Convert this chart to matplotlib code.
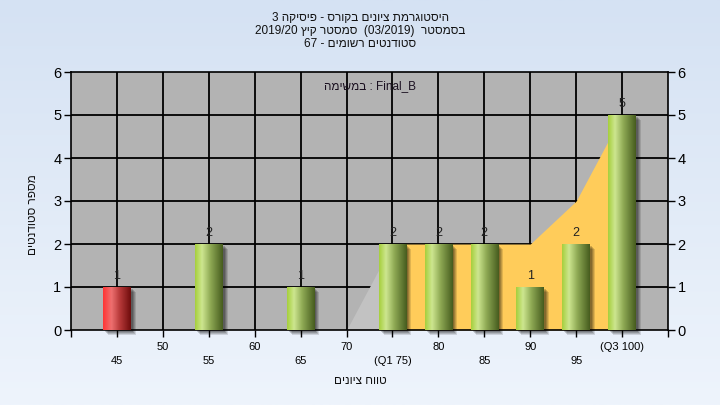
import numpy as np
import matplotlib
matplotlib.use('Agg')
import matplotlib.pyplot as plt
from matplotlib.colors import LinearSegmentedColormap
from matplotlib.patches import Rectangle
import matplotlib.transforms as mtransforms

plt.rcParams['font.family'] = ['Liberation Sans', 'DejaVu Sans']

# ---------------- data ----------------
categories = [45, 55, 65, 75, 80, 85, 90, 95, 100]
counts = [1, 2, 1, 2, 2, 2, 1, 2, 5]
fail_below = 55

area_x = [70, 75, 80, 85, 90, 95, 100]
area_y = [0, 2, 2, 2, 2, 3, 5]
q1 = 75

major_ticks = [50, 60, 70, 80, 90, 100]
major_labels = ["50", "60", "70", "80", "90", "(Q3 100)"]
minor_ticks = [45, 55, 65, 75, 85, 95]
minor_labels = ["45", "55", "65", "(Q1 75)", "85", "95"]

title_lines = ["היסטוגרמת ציונים בקורס - פיסיקה 3",
               "בסמסטר  (03/2019)  סמסטר קיץ 2019/20",
               "סטודנטים רשומים - 67"]
task_label = "Final_B : במשימה"
x_label = "טווח ציונים"
y_label = "מספר סטודנטים"


def rtl(s):
    toks = s.split(' ')[::-1]
    return ' '.join(t[::-1] if any('\u0590' <= c <= '\u05ff' for c in t) else t for t in toks)


# ---------------- figure ----------------
fig = plt.figure(figsize=(7.2, 4.05), dpi=100)

# background gradient
bg = fig.add_axes([0, 0, 1, 1], zorder=-10)
grad = np.linspace(0, 1, 256).reshape(-1, 1)
bg_cmap = LinearSegmentedColormap.from_list('bg', ['#d5e2f3', '#eef4fc'])
bg.imshow(grad, aspect='auto', cmap=bg_cmap, extent=[0, 1, 0, 1], origin='upper')
bg.set_axis_off()

ax = fig.add_axes([71 / 720, 75 / 405, 597 / 720, 258 / 405])
ax.set_facecolor('#b3b3b3')
ax.set_xlim(40, 105)
ax.set_ylim(0, 6)

# grid
for xv in minor_ticks + major_ticks:
    ax.axvline(xv, color='black', lw=1.3, zorder=0.5)
for yv in range(1, 6):
    ax.axhline(yv, color='black', lw=1.3, zorder=0.5)

# area (grey before Q1, yellow from Q1)
ax_ = np.array(area_x, dtype=float)
ay_ = np.array(area_y, dtype=float)
ax.fill_between(ax_, 0, ay_, where=ax_ <= q1, color='#c2c2c2', lw=0, zorder=1)
ax.fill_between(ax_, 0, ay_, where=ax_ >= q1, color='#ffcc5a', lw=0, zorder=1)

# bars
green_cmap = LinearSegmentedColormap.from_list(
    'g', [(0, '#a6cf3c'), (0.25, '#cde690'), (0.55, '#8faa55'), (1, '#465c1e')])
red_cmap = LinearSegmentedColormap.from_list(
    'r', [(0, '#ff3535'), (0.3, '#ee7070'), (0.6, '#b83a3a'), (1, '#6e0c0c')])

bars = ax.bar(categories, counts, width=3.0, color='none', zorder=3)
hgrad = np.linspace(0, 1, 128).reshape(1, -1)
for cat, cnt, b in zip(categories, counts, bars):
    x0, w, h = b.get_x(), b.get_width(), b.get_height()
    # shadow
    for k, a in enumerate([0.18, 0.16, 0.14, 0.12]):
        off = mtransforms.offset_copy(ax.transData, fig=fig, x=2 + k, y=-(2 + k), units='dots')
        ax.add_patch(Rectangle((x0, 0), w, h, transform=off, facecolor='black',
                               alpha=a, lw=0, zorder=2, clip_on=False))
    cmap = red_cmap if cat < fail_below else green_cmap
    ax.imshow(hgrad, cmap=cmap, extent=[x0, x0 + w, 0, h], aspect='auto', zorder=3)
    ax.text(cat, h + 0.12, str(cnt), ha='center', va='bottom', fontsize=9,
            color='#222222', zorder=4)

ax.set_xlim(40, 105)
ax.set_ylim(0, 6)

# ticks
ax.set_xticks([40] + major_ticks + [105])
ax.set_xticklabels([''] + major_labels + [''])
ax.set_xticks(minor_ticks, minor=True)
ax.set_xticklabels(minor_labels, minor=True)
ax.tick_params(axis='x', which='major', direction='out', length=5, width=1, pad=4, labelsize=8)
ax.tick_params(axis='x', which='minor', direction='out', length=5, width=1, pad=14, labelsize=8)
ax.set_yticks(range(0, 7))
ax.tick_params(axis='y', direction='out', length=5, width=1, labelsize=10.5,
               right=True, labelright=True, pad=2)
for sp in ax.spines.values():
    sp.set_color('black')
    sp.set_linewidth(1.2)

# texts
ax.text(0.5, 0.945, rtl(task_label), transform=ax.transAxes, ha='center', va='center',
        fontsize=8.5, color='#1a1020', zorder=5)
for i, line in enumerate(title_lines):
    fig.text(0.5, 1 - (18 + 13 * i) / 405, rtl(line), ha='center', va='center', fontsize=8.5,
             color='#111111')
fig.text(0.5, 1 - 381 / 405, rtl(x_label), ha='center', va='center', fontsize=8.5, color='#111111')
fig.text(33 / 720, 1 - 215 / 405, rtl(y_label), ha='center', va='center', rotation=90,
         fontsize=8.5, color='#111111')

fig.savefig('out.png', dpi=100)
